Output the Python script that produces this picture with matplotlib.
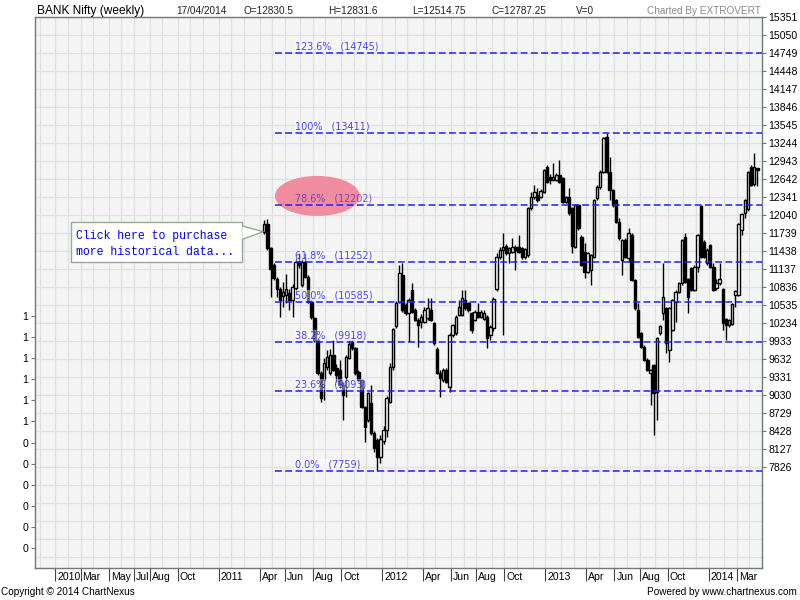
import numpy as np
import pandas as pd
import matplotlib
matplotlib.use('Agg')
import matplotlib.pyplot as plt
from matplotlib.patches import Ellipse, Rectangle, Polygon
from matplotlib.transforms import ScaledTranslation

plt.rcParams['font.family'] = ['Liberation Sans', 'DejaVu Sans']

# weekly BANK Nifty candles, weeks ending Thursday, 14/04/2011 .. 17/04/2014
opens = [11749, 11888, 11481, 11202, 10968, 10795, 10689, 10700, 10728, 10616,
         10812, 11258, 10867, 11258, 11007, 10588, 10309, 9947, 9389, 9277,
         9500, 9389, 9696, 9473, 9445, 9194, 9333, 9640, 9919, 9807,
         9417, 9277, 8831, 8608, 8887, 8385, 8273, 7994, 8250, 8440,
         8915, 9500, 10181, 10588, 11035, 10533, 10393, 10784, 10449, 10282,
         10254, 10254, 10309, 10449, 10226, 9800, 9400, 9277, 9445, 9166,
         10030, 10058, 10365, 10365, 10616, 10560, 10393, 10282, 10421, 10337,
         10300, 10337, 10030, 10142, 10795, 11341, 11453, 11520, 11397, 11425,
         11508, 11508, 11481, 11330, 11370, 12150, 12334, 12373, 12345, 12429,
         12848, 12680, 12625, 12625, 12708, 12652, 12262, 12345, 12150, 11508,
         12206, 11676, 11425, 11090, 11120, 11341, 12318, 12513, 12764, 13339,
         12764, 12457, 12290, 11927, 11285, 11620, 11313, 11704, 10951, 10449,
         10058, 9835, 9612, 9389, 9528, 9082, 10058, 10393, 10477, 9779,
         10114, 10588, 10756, 10895, 11676, 10962, 11146, 10784, 11174, 12189,
         11592, 11230, 11536, 11174, 10811, 10895, 10795, 10292, 10198, 10214,
         10700, 10700, 11787, 12066, 12133, 12848, 12557, 12830.5]
highs = [11955, 11966, 11510, 11230, 11000, 10830, 10923, 11051, 10800, 10890,
         11310, 11397, 11300, 11397, 11030, 10620, 10330, 9980, 9420, 9650,
         9780, 9800, 9947, 9540, 9612, 9250, 9700, 9947, 9950, 9830,
         9450, 9300, 8850, 9080, 9194, 8420, 8300, 8350, 8500, 9010,
         9560, 10150, 10600, 11200, 11230, 10560, 10650, 10895, 10480, 10310,
         10380, 10500, 10644, 10644, 10250, 9830, 9450, 9480, 9470, 10060,
         10220, 10360, 10616, 10784, 10784, 10580, 10410, 10440, 10560, 10440,
         10450, 10360, 10200, 10660, 11400, 11500, 11732, 11560, 11500, 11648,
         11540, 11704, 11500, 11480, 12170, 12429, 12541, 12485, 12470, 12810,
         12870, 12720, 12915, 12740, 12959, 12670, 12360, 12485, 12170, 12230,
         12220, 11700, 11565, 11420, 11390, 12310, 12540, 12790, 13340, 13411.3,
         13000, 12480, 12310, 11983, 11640, 11650, 11815, 11730, 10970, 10560,
         10080, 9860, 9640, 9460, 9550, 9990, 10200, 11230, 10500, 10500,
         10640, 10780, 10920, 11640, 11732, 10990, 11170, 11200, 11720, 12206,
         11620, 11480, 11560, 11230, 10962, 11230, 10820, 10310, 10300, 10570,
         10790, 11900, 12070, 12300, 12780, 12870, 13071, 12831.6]
lows = [11720, 11460, 10672, 10950, 10672, 10337, 10505, 10560, 10449, 10326,
        10780, 11150, 10840, 10980, 10560, 10300, 9920, 9360, 8903, 8950,
        9450, 9360, 9420, 9250, 9150, 8608, 8998, 9620, 9780, 9360,
        9250, 8800, 8244, 8580, 8360, 8080, 7758.8, 7880, 8200, 8330,
        8890, 9450, 10150, 10560, 10420, 10370, 9919, 10400, 10260, 9835,
        10150, 10230, 10280, 10260, 9870, 9370, 8998, 9250, 9220, 9080,
        9990, 10030, 10340, 10340, 10450, 10420, 10058, 10260, 10310, 10310,
        10280, 9807, 9940, 10100, 10760, 11300, 10030, 11370, 11230, 11400,
        11118, 11400, 11300, 11300, 11340, 12120, 12300, 12260, 12320, 12400,
        12580, 12560, 12600, 12600, 12570, 12240, 12240, 12040, 11400, 11480,
        11790, 11180, 10979, 11060, 10867, 11320, 12290, 12480, 12740, 12740,
        12290, 12180, 11900, 11620, 11034, 11320, 11257, 10930, 10450, 9980,
        9810, 9590, 9420, 8859, 8356, 8608, 10030, 10281, 9723, 9573,
        10090, 10253, 10730, 10870, 10900, 10404, 10760, 10760, 11090, 11320,
        11320, 11200, 11150, 10760, 10790, 10870, 10114, 9946, 10170, 10190,
        10505, 10680, 11707, 11983, 12110, 12520, 12530, 12514.75]
closes = [11888, 11481, 11135, 10979, 10795, 10616, 10756, 10795, 10616, 10839,
          11258, 11202, 11258, 11007, 10588, 10337, 9947, 9389, 8970, 9567,
          9668, 9696, 9445, 9361, 9194, 9027, 9668, 9880, 9807, 9389,
          9277, 8831, 8496, 9054, 8385, 8134, 7994, 8284, 8440, 8970,
          9500, 10125, 10561, 11063, 10449, 10393, 10616, 10421, 10282, 10198,
          10337, 10449, 10477, 10282, 9891, 9389, 9305, 9445, 9250, 10030,
          10198, 10337, 10505, 10644, 10477, 10449, 10114, 10421, 10337, 10421,
          10400, 9974, 10170, 10633, 11341, 11453, 11508, 11397, 11481, 11508,
          11453, 11425, 11330, 11464, 12150, 12345, 12429, 12290, 12446, 12792,
          12597, 12625, 12680, 12708, 12597, 12262, 12345, 12066, 11520, 12206,
          11815, 11202, 11090, 11397, 11370, 12290, 12513, 12764, 13322, 12764,
          12457, 12206, 11927, 11648, 11620, 11341, 11732, 10951, 10477, 10003,
          9835, 9612, 9444, 9444, 9054, 9974, 10181, 10672, 9902, 10477,
          10616, 10756, 10895, 11620, 10923, 10672, 10784, 11174, 11704, 11341,
          11341, 11453, 11174, 10784, 10906, 10973, 10226, 10198, 10281, 10549,
          10767, 11888, 12055, 12290, 12764, 12541, 12836, 12787.25]

fib_ratios = [0.0, 0.236, 0.382, 0.5, 0.618, 0.786, 1.0, 1.236]
price_ticks = list(range(15351, 7825, -301))
left_labels = ['0'] * 6 + ['1'] * 6
tick_months = [(2010, 1), (2010, 3), (2010, 5), (2010, 7), (2010, 8), (2010, 10),
               (2011, 1), (2011, 4), (2011, 6), (2011, 8), (2011, 10),
               (2012, 1), (2012, 4), (2012, 6), (2012, 8), (2012, 10),
               (2013, 1), (2013, 4), (2013, 6), (2013, 8), (2013, 10),
               (2014, 1), (2014, 3)]
last_date = '2014-04-17'
header = ['17/04/2014', 'O=12830.5', 'H=12831.6', 'L=12514.75', 'C=12787.25', 'V=0']
header_x = [176, 244, 328, 412, 491, 576]

W, H = 800, 600
fig = plt.figure(figsize=(8, 6), dpi=100)


def fx(px):
    return px / W


def fy(py):
    return 1 - py / H


ax = fig.add_axes([fx(35), fy(568), fx(762) - fx(35), fy(17) - fy(568)])
ax.set_facecolor('#f4f4f4')
x_lo, x_hi = -73.0, 158.5
y_lo, y_hi = 6131, 15351
ax.set_xlim(x_lo, x_hi)
ax.set_ylim(y_lo, y_hi)

N = len(closes)
idx = np.arange(N)
o = np.array(opens, dtype=float)
c = np.array(closes, dtype=float)
hi_ = np.array(highs, dtype=float)
lo_ = np.array(lows, dtype=float)

# weekly calendar, extended back before the data for the month grid
n_pre = 80
weeks = pd.date_range(end=last_date, periods=N + n_pre, freq='W-THU')
wpos = np.arange(-n_pre, N)
months = np.asarray(weeks.month)
years = np.asarray(weeks.year)
new_month = np.r_[True, months[1:] != months[:-1]]

grid_c = '#e0e0e0'
for p in wpos[new_month]:
    ax.axvline(p - 0.5, color=grid_c, lw=0.9, zorder=0)
for lv in np.arange(15351, y_lo, -301):
    ax.axhline(lv, color=grid_c, lw=0.9, zorder=0)

# candles
up = c >= o
ax.vlines(idx, lo_, hi_, color='black', lw=1.0, zorder=3)
body_lo = np.minimum(o, c)
body_h = np.maximum(np.abs(c - o), 16)
ax.bar(idx, body_h, bottom=body_lo, width=0.78,
       color=np.where(up, 'white', 'black'), edgecolor='black',
       linewidth=1.0, zorder=4)

# fibonacci levels
f_lo, f_hi = lo_.min(), hi_.max()
fib_x0 = 3.4
lab_x = 9.8
lift = ax.transData + ScaledTranslation(0, 1.5 / 100, fig.dpi_scale_trans)
for r in fib_ratios:
    lv = f_lo + r * (f_hi - f_lo)
    ax.hlines(lv, fib_x0, x_hi, color='#1f1fff', lw=1.1,
              linestyles=(0, (4.5, 2.2)), zorder=5)
    pct = '100%' if r == 1.0 else f'{r * 100:.1f}%'
    on_mark = r == 0.786
    ax.text(lab_x, lv, f'{pct}   ({lv:.0f})', transform=lift,
            family='DejaVu Sans', fontsize=6.9,
            color='#5a2fc8' if on_mark else '#0000ff',
            alpha=0.8 if on_mark else 0.72,
            va='bottom', ha='left', zorder=6,
            bbox=dict(facecolor='white', alpha=0.0 if on_mark else 0.45,
                      edgecolor='none', pad=0.3))

# highlight around the 78.6% level
lv786 = f_lo + 0.786 * (f_hi - f_lo)
ax.add_patch(Ellipse((16.9, lv786 + 155), 27, 670, facecolor='#f08c9f',
                     edgecolor='none', zorder=1))

# axes styling
spine_c = '#6f7a72'
for s in ax.spines.values():
    s.set_color(spine_c)
    s.set_linewidth(1.0)

tick_pos, tick_lab = [], []
for (yy, mm) in tick_months:
    sel = wpos[(years == yy) & (months == mm)]
    tick_pos.append(sel[0] - 0.5)
    tick_lab.append(str(yy) if mm == 1 else pd.Timestamp(yy, mm, 1).strftime('%b'))
ax.set_xticks(tick_pos)
ax.set_xticklabels(tick_lab)
ax.tick_params(axis='x', length=9, width=0.8, color='#444444', pad=-6,
               labelsize=7.6)
shift = ScaledTranslation(2 / 100, 0, fig.dpi_scale_trans)
for t in ax.get_xticklabels():
    t.set_ha('left')
    t.set_transform(t.get_transform() + shift)

# left scale (truncated labels as in the original)
ax2 = ax.twinx()
ax2.set_ylim(-0.948, 25.17)
ax2.yaxis.tick_left()
ax2.set_yticks(range(len(left_labels)))
ax2.set_yticklabels(left_labels)
ax2.tick_params(axis='y', length=3, width=0.8, color=spine_c, pad=2,
                labelsize=7.6)
for s in ax2.spines.values():
    s.set_visible(False)

# price scale on the right (after twinx, which moves it)
ax.yaxis.tick_right()
ax.set_yticks(price_ticks)
ax.set_yticklabels([str(v) for v in price_ticks])
ax.tick_params(axis='y', which='both', left=False, labelleft=False,
               right=True, labelright=True, length=3, width=0.8,
               color=spine_c, pad=1.5, labelsize=7.6, labelcolor='black')

# callout box
box = Rectangle((fx(71), fy(262.3)), fx(242.3) - fx(71), fy(222.3) - fy(262.3),
                transform=fig.transFigure, facecolor='white',
                edgecolor='#8fae8f', lw=1.0, zorder=10)
fig.add_artist(box)
tip = Polygon([(fx(242.3), fy(226)), (fx(263.3), fy(231.7)), (fx(242.3), fy(239.3))],
              closed=False, transform=fig.transFigure, facecolor='white',
              edgecolor='#8fae8f', lw=1.0, zorder=11)
fig.add_artist(tip)
for ty, line in [(235.7, 'Click here to purchase'), (252.3, 'more historical data...')]:
    fig.text(fx(76.5), fy(ty), line, family='Liberation Mono', fontsize=8.3,
             color='#0000ff', va='center', ha='left', zorder=12)

# header / footer
fig.text(fx(37), fy(11), 'BANK Nifty (weekly)', fontsize=8.6, color='black',
         va='center', ha='left')
for xx, s in zip(header_x, header):
    fig.text(fx(xx), fy(11), s, fontsize=7.2, color='#222222', va='center', ha='left')
fig.text(fx(761), fy(11), 'Charted By EXTROVERT', fontsize=7.2, color='#8a8a8a',
         va='center', ha='right')
fig.text(fx(1), fy(592), 'Copyright \u00a9 2014 ChartNexus', fontsize=7.2,
         color='black', va='center', ha='left')
fig.text(fx(797), fy(592), 'Powered by www.chartnexus.com', fontsize=7.2,
         color='black', va='center', ha='right')

fig.savefig('out.png', dpi=100)
